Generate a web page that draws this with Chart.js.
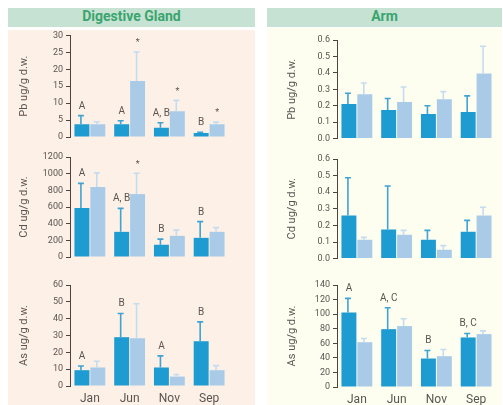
<!DOCTYPE html>
<html>
<head>
<meta charset="utf-8">
<script src="https://cdn.jsdelivr.net/npm/chart.js@4.4.1/dist/chart.umd.min.js"></script>
<style>
  body { margin: 0; background: #fff; font-family: Roboto, sans-serif; }
  #page { position: relative; width: 503px; height: 405px; overflow: hidden; }
  .head { position: absolute; top: 8px; height: 19px; line-height: 19px; background: #c6e2d3; color: #3aa56e; font: bold 14px Roboto, sans-serif; text-align: center; }
  .panel { position: absolute; bottom: 0; }
  canvas { position: absolute; }
</style>
</head>
<body>
<div id="page">
  <div class="head" style="left:8px;width:247px">Digestive Gland</div>
  <div class="head" style="left:267px;width:235px">Arm</div>
  <div class="panel" style="left:8px;top:30px;width:247px;background:#fdf0e6"></div>
  <div class="panel" style="left:267px;top:28px;width:235px;background:#fefef0"></div>

  <canvas id="dg-pb" width="247" height="120" style="left:8px;top:27px"></canvas>
  <canvas id="arm-pb" width="235" height="120" style="left:267px;top:27px"></canvas>
  <canvas id="dg-cd" width="247" height="122" style="left:8px;top:145px"></canvas>
  <canvas id="arm-cd" width="235" height="122" style="left:267px;top:145px"></canvas>
  <canvas id="dg-as" width="247" height="133" style="left:8px;top:272px"></canvas>
  <canvas id="arm-as" width="235" height="133" style="left:267px;top:272px"></canvas>
</div>

<script>
const months = ['Jan', 'Jun', 'Nov', 'Sep'];

// Digestive gland
const dgPbDark = [3.8, 3.8, 2.7, 1.2];
const dgPbDarkSd = [2.5, 1.0, 1.5, 0.2];
const dgPbLight = [3.8, 16.5, 7.6, 3.8];
const dgPbLightSd = [0.7, 8.6, 3.2, 0.6];
const dgPbLetters = ['A', 'A', 'A, B', 'B'];
const dgPbStars = ['', '*', '*', '*'];

const dgCdDark = [588, 302, 147, 230];
const dgCdDarkSd = [295, 282, 68, 195];
const dgCdLight = [839, 755, 254, 302];
const dgCdLightSd = [171, 250, 68, 51];
const dgCdLetters = ['A', 'A, B', 'B', 'B'];
const dgCdStars = ['', '*', '', ''];

const dgAsDark = [9.4, 29, 11, 26.6];
const dgAsDarkSd = [2.5, 14.1, 6.9, 11.5];
const dgAsLight = [11, 28.4, 5.6, 9.4];
const dgAsLightSd = [3.7, 20.5, 1.2, 2.7];
const dgAsLetters = ['A', 'B', 'A', 'B'];

// Arm
const armPbDark = [0.21, 0.174, 0.15, 0.162];
const armPbDarkSd = [0.066, 0.07, 0.05, 0.098];
const armPbLight = [0.27, 0.222, 0.24, 0.396];
const armPbLightSd = [0.068, 0.092, 0.046, 0.166];

const armCdDark = [0.259, 0.175, 0.114, 0.162];
const armCdDarkSd = [0.228, 0.262, 0.056, 0.068];
const armCdLight = [0.114, 0.144, 0.054, 0.259];
const armCdLightSd = [0.014, 0.026, 0.024, 0.05];

const armAsDark = [102.4, 79.4, 39.1, 68];
const armAsDarkSd = [19.3, 29.4, 11, 5.5];
const armAsLight = [61.5, 83.6, 42.3, 72.6];
const armAsLightSd = [5.1, 10, 9.2, 4.5];
const armAsLetters = ['A', 'A, C', 'B', 'B, C'];

const DARK = '#1e9bd1';
const LIGHT = '#a9cbe8';
const DARK_ERR = '#3fa3d3';
const LIGHT_ERR = '#c4dcef';
const AXIS = '#4d4340';
const TEXT = '#5a5552';

// upward error bars + letters / asterisks above them
const errorBars = {
  id: 'errorBars',
  afterDatasetsDraw(chart) {
    const ctx = chart.ctx;
    const yScale = chart.scales.y;
    chart.data.datasets.forEach((ds, i) => {
      const meta = chart.getDatasetMeta(i);
      meta.data.forEach((bar, j) => {
        const top = yScale.getPixelForValue(ds.data[j] + ds.sd[j]);
        const x = bar.x - 1;
        ctx.save();
        ctx.strokeStyle = ds.errColor;
        ctx.lineWidth = 1.6;
        ctx.beginPath();
        ctx.moveTo(x, bar.y);
        ctx.lineTo(x, top);
        ctx.moveTo(x - 3, top);
        ctx.lineTo(x + 3, top);
        ctx.stroke();
        const note = ds.notes ? ds.notes[j] : '';
        if (note) {
          ctx.fillStyle = TEXT;
          ctx.font = (note === '*' ? '9px' : '10px') + ' Roboto, sans-serif';
          ctx.textAlign = 'center';
          ctx.textBaseline = 'middle';
          ctx.fillText(note, bar.x, top - (note === '*' ? 9 : 9.5));
        }
        ctx.restore();
      });
    });
  }
};

function drawPanel(id, cfg) {
  new Chart(document.getElementById(id), {
    type: 'bar',
    data: {
      labels: months,
      datasets: [
        { data: cfg.dark, sd: cfg.darkSd, notes: cfg.letters, backgroundColor: DARK, errColor: DARK_ERR },
        { data: cfg.light, sd: cfg.lightSd, notes: cfg.stars, backgroundColor: LIGHT, errColor: LIGHT_ERR }
      ]
    },
    options: {
      responsive: false,
      animation: false,
      layout: { padding: { top: cfg.top, right: cfg.right, bottom: 0, left: 0 } },
      datasets: { bar: { categoryPercentage: 0.8, barPercentage: 0.94 } },
      plugins: { legend: { display: false }, tooltip: { enabled: false } },
      scales: {
        x: {
          grid: { display: false, drawTicks: false },
          border: { display: false },
          ticks: { display: !!cfg.months, color: TEXT, padding: 6, font: { family: 'Roboto', size: 12 } },
          afterFit: s => { s.height = cfg.bottom; }
        },
        y: {
          min: 0,
          max: cfg.max,
          border: { color: AXIS, width: 1 },
          grid: { drawOnChartArea: false, drawTicks: true, tickLength: 4, color: AXIS },
          ticks: {
            stepSize: cfg.step,
            color: TEXT,
            padding: 3,
            font: { family: 'Roboto', size: 9 },
            callback: v => v.toFixed(cfg.dec || 0)
          },
          title: {
            display: true,
            text: cfg.title,
            color: TEXT,
            font: { family: 'Roboto', size: 11 },
            padding: { top: cfg.titlePad, bottom: 0 }
          },
          afterFit: s => { s.width = cfg.axisW; }
        }
      }
    },
    plugins: [errorBars]
  });
}

const left = { axisW: 62, right: 26, titlePad: 10 };
const right = { axisW: 70, right: 6, titlePad: 19 };

drawPanel('dg-pb', { ...left, dark: dgPbDark, darkSd: dgPbDarkSd, light: dgPbLight, lightSd: dgPbLightSd,
  letters: dgPbLetters, stars: dgPbStars, max: 30, step: 5, title: 'Pb ug/g d.w.', top: 8, bottom: 10 });
drawPanel('arm-pb', { ...right, dark: armPbDark, darkSd: armPbDarkSd, light: armPbLight, lightSd: armPbLightSd,
  max: 0.6, step: 0.1, dec: 1, title: 'Pb ug/g d.w.', top: 13, bottom: 7 });

drawPanel('dg-cd', { ...left, dark: dgCdDark, darkSd: dgCdDarkSd, light: dgCdLight, lightSd: dgCdLightSd,
  letters: dgCdLetters, stars: dgCdStars, max: 1200, step: 200, title: 'Cd ug/g d.w.', top: 12, bottom: 10 });
drawPanel('arm-cd', { ...right, dark: armCdDark, darkSd: armCdDarkSd, light: armCdLight, lightSd: armCdLightSd,
  max: 0.6, step: 0.1, dec: 1, title: 'Cd ug/g d.w.', top: 14, bottom: 8 });

drawPanel('dg-as', { ...left, dark: dgAsDark, darkSd: dgAsDarkSd, light: dgAsLight, lightSd: dgAsLightSd,
  letters: dgAsLetters, max: 60, step: 10, title: 'As ug/g d.w.', top: 13, bottom: 19, months: true });
drawPanel('arm-as', { ...right, dark: armAsDark, darkSd: armAsDarkSd, light: armAsLight, lightSd: armAsLightSd,
  letters: armAsLetters, max: 140, step: 20, title: 'As ug/g d.w.', top: 13, bottom: 18, months: true });
</script>
</body>
</html>
